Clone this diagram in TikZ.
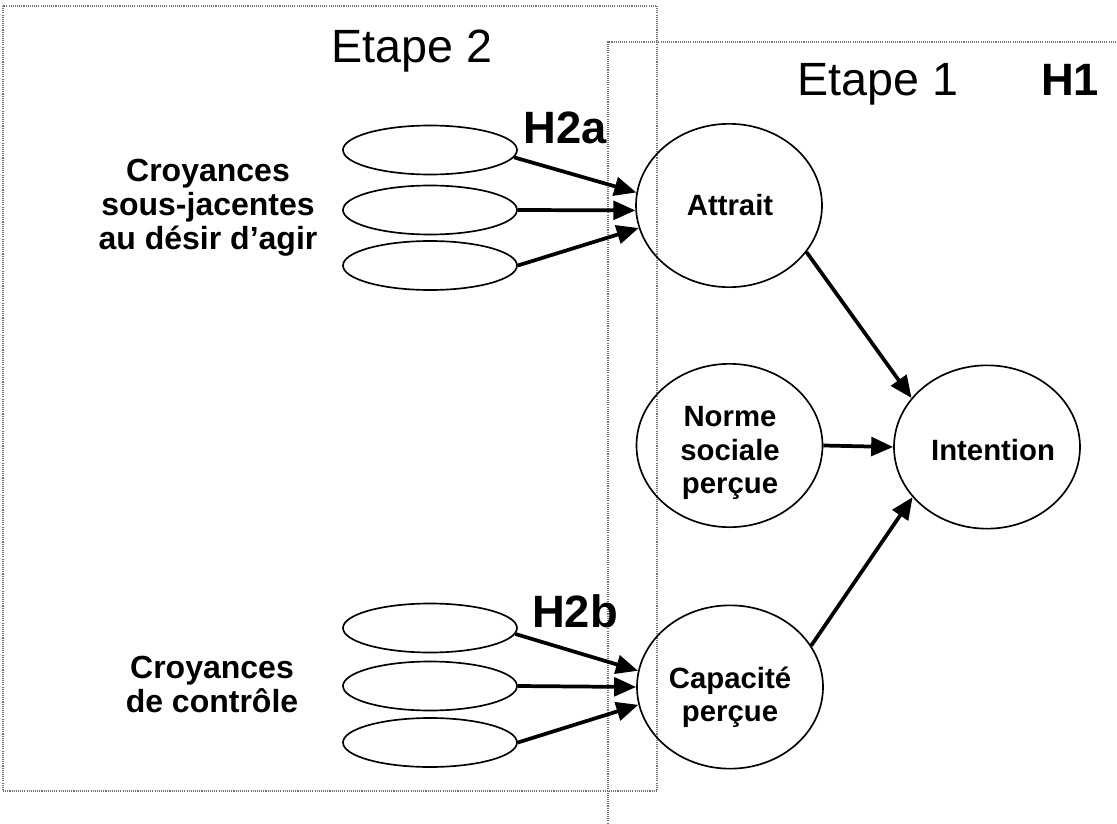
\documentclass[tikz,border=0pt]{standalone}
\usepackage{fontspec}
\setmainfont{Liberation Sans}
\usetikzlibrary{shapes.geometric,arrows.meta}
\begin{document}
\begin{tikzpicture}[x=0.75pt,y=-0.75pt,
  frame/.style={draw=black!55, line width=0.8pt, dash pattern=on 0.8pt off 0.8pt},
  small/.style={ellipse, draw, line width=1.25pt, minimum width=130.5pt, minimum height=36.75pt, inner sep=0pt},
  big/.style={ellipse, draw, line width=1.25pt, minimum width=139.5pt, minimum height=122.5pt, inner sep=0pt},
  lab/.style={font=\bfseries\fontsize{22}{25}\selectfont, align=center, inner sep=0pt},
  side/.style={font=\bfseries\fontsize{24}{25.5}\selectfont, align=center, inner sep=0pt},
  title/.style={font=\fontsize{35}{40}\selectfont, inner sep=0pt, anchor=base},
  hyp/.style={font=\bfseries\fontsize{34}{40}\selectfont, inner sep=0pt, anchor=base},
  link/.style={-{Triangle[length=16.5pt,width=14pt]}, line width=2.8pt},
]
\useasboundingbox (0,0) rectangle (1117,824);
\fill[white] (0,0) rectangle (1117,824);
\draw[frame] (3,6) rectangle (657,791);
\draw[frame] (1116,42) -- (608,42) -- (608,824);

\node[title] (t2) at (412,63) {Etape 2};
\node[title] (t1) at (878,95) {Etape 1};
\node[hyp] (h1) at (1070,95) {H1};
\node[hyp] (h2a) at (565,143) {H2a};
\node[hyp] (h2b) at (575,627) {H2b};

\node[small] (a1) at (430,150) {};
\node[small] (a2) at (430,210) {};
\node[small] (a3) at (430,265.5) {};
\node[small] (b1) at (430,628) {};
\node[small] (b2) at (430,686) {};
\node[small] (b3) at (430,742.5) {};

\node[big] (att) at (729,205.5) {};
\node[big] (nor) at (729.5,445.5) {};
\node[big] (cap) at (730,687) {};
\node[big] (int) at (987,447) {};

\node[lab, anchor=base] (attl) at (730,215) {Attrait};
\node[lab] (norl) at (730,453) {Norme\\sociale\\perçue};
\node[lab] (capl) at (730,697) {Capacité\\perçue};
\node[lab, anchor=base] (intl) at (993,460) {Intention};

\node[side] (c1) at (208,208) {Croyances\\sous-jacentes\\au désir d’agir};
\node[side] (c2) at (212,684) {Croyances\\de contrôle};

\draw[link] (a1.-5) -- (att.172);
\draw[link] (a2.east) -- (att.183);
\draw[link] (a3.east) -- (att.194);
\draw[link] (b1.-4) -- (cap.170);
\draw[link] (b2.east) -- (cap.180);
\draw[link] (b3.east) -- (cap.191);
\draw[link] (att.-31) -- (int.147);
\draw[link] (nor.east) -- (int.west);
\draw[link] (cap.27) -- (int.214);
\end{tikzpicture}
\end{document}
